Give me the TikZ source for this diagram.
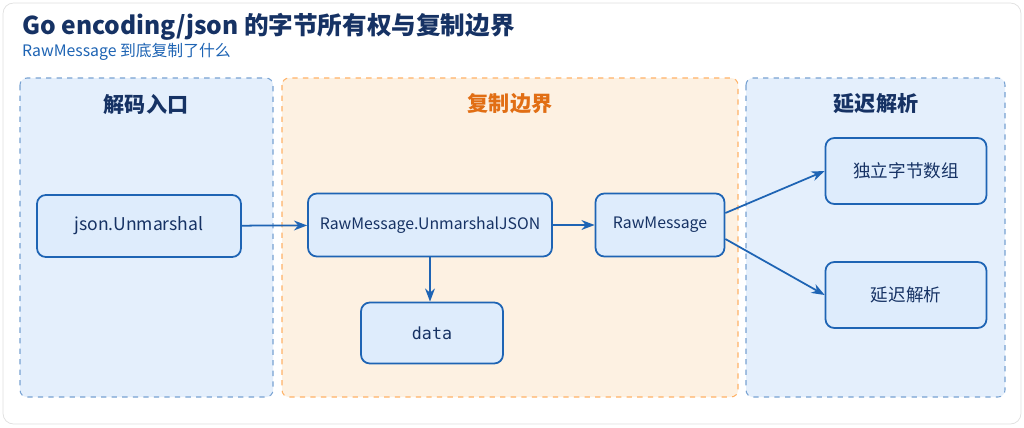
\documentclass[tikz,border=0pt]{standalone}
\usepackage{fontspec}
\setmainfont{Noto Sans CJK SC}
\newfontfamily\monofont{DejaVu Sans Mono}
\usetikzlibrary{arrows.meta,positioning}
\definecolor{flowBlue}{RGB}{30,100,180}
\definecolor{navyText}{RGB}{22,50,100}
\definecolor{panelBlue}{RGB}{228,239,252}
\definecolor{panelOrange}{RGB}{253,241,226}
\definecolor{boxFill}{RGB}{222,236,252}
\definecolor{orangeTitle}{RGB}{225,110,20}
\tikzset{
    >=Stealth,
    panel/.style={draw=#1!60,dashed,rounded corners=4pt,line width=0.6pt},
    ptitle/.style={font=\fontsize{12}{14}\selectfont\bfseries},
    box/.style={draw=flowBlue,fill=boxFill,rounded corners=5pt,line width=1pt,
        font=\fontsize{10}{12}\selectfont,text=navyText},
    flow/.style={->,draw=flowBlue,line width=1pt},
}
\begin{document}
\begin{tikzpicture}[x=0.02cm,y=-0.02cm]
    \useasboundingbox (0,0) rectangle (1024,427);
    \draw[gray!25,fill=white,rounded corners=6pt] (3,3) rectangle (1021,424);

    % titles
    \node[anchor=west,font=\fontsize{14}{16}\selectfont\bfseries,text=navyText] (title) at (16,27) {Go encoding/json 的字节所有权与复制边界};
    \node[anchor=west,font=\fontsize{9}{11}\selectfont,text=flowBlue] (subtitle) at (16,52) {RawMessage 到底复制了什么};

    % panels
    \draw[panel=flowBlue,fill=panelBlue] (20,78) rectangle (273,397);
    \draw[panel=orange,fill=panelOrange] (282,78) rectangle (738,397);
    \draw[panel=flowBlue,fill=panelBlue] (746,78) rectangle (1005,397);
    \node[ptitle,text=navyText] (t1) at (146,104) {解码入口};
    \node[ptitle,text=orangeTitle] (t2) at (510,104) {复制边界};
    \node[ptitle,text=navyText] (t3) at (876,104) {延迟解析};

    % nodes
    \node[box,minimum width=4.08cm,minimum height=1.24cm] (unmarshal) at (139,226) {json.Unmarshal};
    \node[box,minimum width=4.88cm,minimum height=1.26cm,font=\fontsize{9}{11}\selectfont] (rmjson) at (430,225) {RawMessage.UnmarshalJSON};
    \node[box,minimum width=2.58cm,minimum height=1.26cm,font=\fontsize{9}{11}\selectfont] (rawmsg) at (660,225) {RawMessage};
    \node[box,minimum width=2.84cm,minimum height=1.22cm,font=\monofont\fontsize{9.5}{11}\selectfont] (data) at (432,333) {data};
    \node[box,minimum width=3.22cm,minimum height=1.32cm] (bytes) at (906,171) {独立字节数组};
    \node[box,minimum width=3.22cm,minimum height=1.32cm] (lazy) at (906,295) {延迟解析};

    % connectors
    \draw[flow] (unmarshal) -- (rmjson);
    \draw[flow] (rmjson) -- (rmjson |- data.north);
    \draw[flow] (rmjson) -- (rawmsg);
    \draw[flow] (rawmsg.east) ++(0,-12) coordinate (c1) (c1) -- (bytes.west);
    \draw[flow] (rawmsg.east) ++(0,14) coordinate (c2) (c2) -- (lazy.west);
\end{tikzpicture}
\end{document}
